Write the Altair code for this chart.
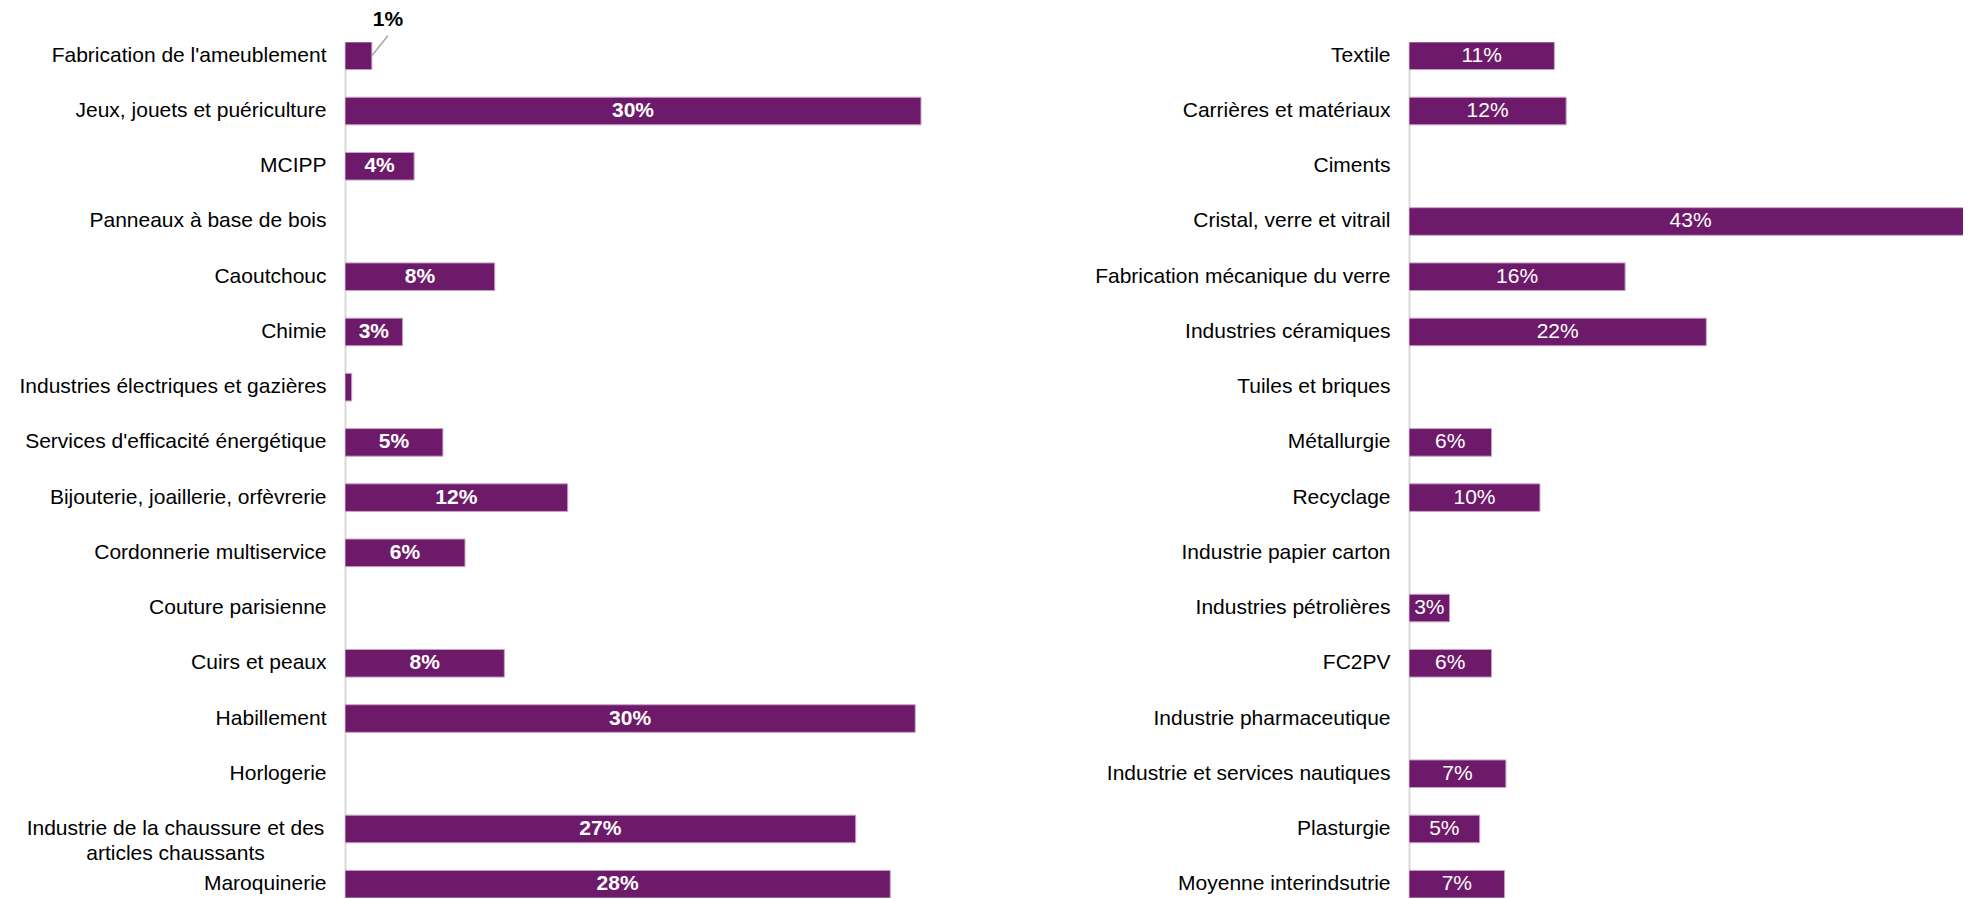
import altair as alt
import pandas as pd

# ---------------- data ----------------
left_cats = [
    "Fabrication de l'ameublement",
    "Jeux, jouets et puériculture",
    "MCIPP",
    "Panneaux à base de bois",
    "Caoutchouc",
    "Chimie",
    "Industries électriques et gazières",
    "Services d'efficacité énergétique",
    "Bijouterie, joaillerie, orfèvrerie",
    "Cordonnerie multiservice",
    "Couture parisienne",
    "Cuirs et peaux",
    "Habillement",
    "Horlogerie",
    "Industrie de la chaussure et des\narticles chaussants",
    "Maroquinerie",
]
left_vals = [0.014, 0.300, 0.036, None, 0.078, 0.030, 0.0035, 0.051,
             0.116, 0.0625, None, 0.083, 0.297, None, 0.266, 0.284]
left_labels = ["1%", "30%", "4%", "", "8%", "3%", "", "5%",
               "12%", "6%", "", "8%", "30%", "", "27%", "28%"]

right_cats = [
    "Textile",
    "Carrières et matériaux",
    "Ciments",
    "Cristal, verre et vitrail",
    "Fabrication mécanique du verre",
    "Industries céramiques",
    "Tuiles et briques",
    "Métallurgie",
    "Recyclage",
    "Industrie papier carton",
    "Industries pétrolières",
    "FC2PV",
    "Industrie pharmaceutique",
    "Industrie et services nautiques",
    "Plasturgie",
    "Moyenne interindsutrie",
]
right_vals = [0.111, 0.120, None, 0.430, 0.165, 0.227, None, 0.063,
              0.100, None, 0.031, 0.063, None, 0.074, 0.054, 0.073]
right_labels = ["11%", "12%", "", "43%", "16%", "22%", "", "6%",
                "10%", "", "3%", "6%", "", "7%", "5%", "7%"]

FONT = "Liberation Sans"
PURPLE = "#6E1A6A"
EDGE = "#C9A3C7"
AXIS_GREY = "#D9D9D9"
H = 856

MULTI = "indexof(datum.value, '\\n') >= 0"


def panel(cats, vals, labels, xmax, width, extent, bold, annotate):
    df = pd.DataFrame({"cat": cats, "val": vals, "lab": labels})
    yaxis = alt.Axis(
        title=None, ticks=False, labelFont=FONT, labelFontSize=21,
        labelColor="#000000", labelLimit=600,
        labelPadding={"condition": {"test": MULTI, "value": 170}, "value": 19},
        labelAlign={"condition": {"test": MULTI, "value": "center"}, "value": "right"},
        domainColor=AXIS_GREY, domainWidth=2,
        minExtent=extent, maxExtent=extent,
        labelExpr="split(datum.label, '\\n')", labelLineHeight=25,
    )
    ysc = alt.Scale(paddingInner=0.5, paddingOuter=0)
    y = alt.Y("cat:N", sort=cats, scale=ysc, axis=yaxis)
    xsc = alt.Scale(domain=[0, xmax], nice=False, zero=True)
    base = alt.Chart(df)

    bars = base.mark_bar(color=PURPLE, stroke=EDGE, strokeWidth=1, clip=True).encode(
        x=alt.X("val:Q", scale=xsc, axis=None), y=y
    )
    inside = base.transform_filter(
        "datum.lab != '' && datum.val >= 0.02"
    ).transform_calculate(mid="datum.val / 2").mark_text(
        color="white", font=FONT, fontSize=21,
        fontWeight="bold" if bold else "normal",
        align="center", baseline="middle",
    ).encode(
        x=alt.X("mid:Q", scale=xsc, axis=None), y=y, text="lab:N"
    )
    layers = [bars, inside]
    if annotate:
        small = base.transform_filter("datum.lab != '' && datum.val < 0.02")
        leader = small.mark_rule(
            color="#A6A6A6", strokeWidth=1.5, x2Offset=16, y2Offset=-20
        ).encode(
            x=alt.X("val:Q", scale=xsc, axis=None), x2="val:Q", y=y, y2="cat:N"
        )
        outside = small.mark_text(
            color="black", font=FONT, fontSize=21, fontWeight="bold",
            align="center", baseline="middle", dx=16, dy=-36,
        ).encode(
            x=alt.X("val:Q", scale=xsc, axis=None), y=y, text="lab:N"
        )
        layers += [leader, outside]
    return alt.layer(*layers).properties(width=width, height=H)


left = panel(left_cats, left_vals, left_labels, 0.35, 672, 337, True, True)
right = panel(right_cats, right_vals, right_labels, 0.423, 554, 319, False, False)

chart = alt.hconcat(left, right, spacing=392, bounds="flush").properties(
    padding=0
).configure(
    background="white", view=alt.ViewConfig(strokeWidth=0, stroke="transparent")
)

chart.save("out.html", embed_options={"renderer": "svg", "actions": False})
